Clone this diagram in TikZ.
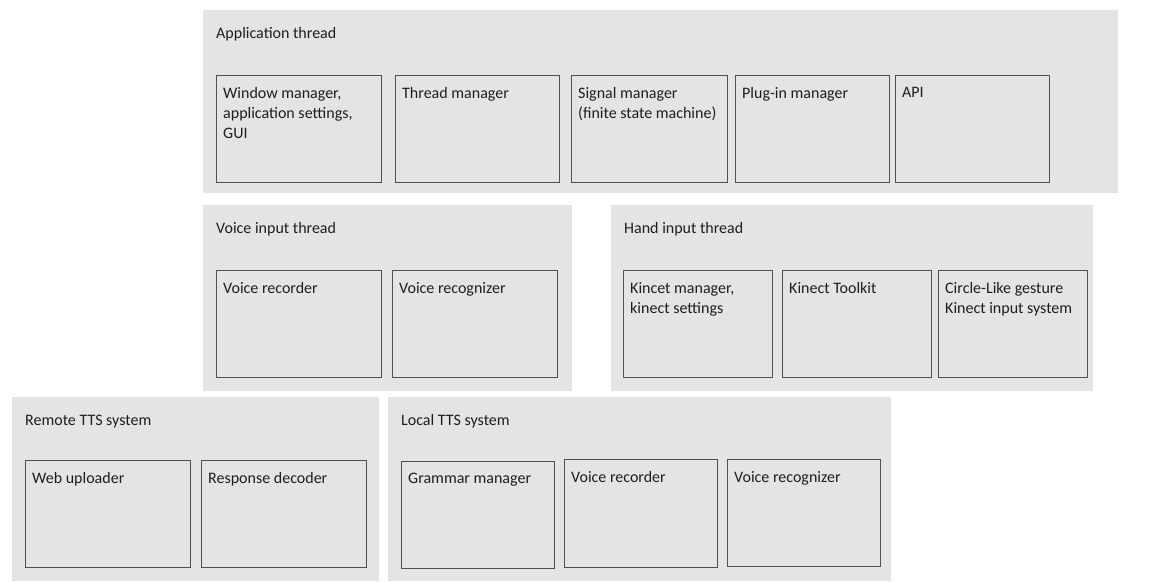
\documentclass[tikz,border=0pt]{standalone}
\usepackage{fontspec}
\setmainfont{Carlito}
\definecolor{panelgray}{HTML}{E4E4E4}
\definecolor{boxgray}{HTML}{505050}
\definecolor{inkgray}{HTML}{1E1E1E}

\tikzset{
	panel/.style={fill=panelgray, draw=none, anchor=north west, inner sep=0pt,
		label={[title]north west:{#1}}},
	title/.style={anchor=base west, inner sep=0pt, xshift=13pt, yshift=-28pt,
		text=inkgray, font=\fontsize{16}{20}\selectfont},
	part/.style={draw=boxgray, line width=1.3pt, anchor=north west, inner sep=0pt,
		minimum height=107pt, label={[desc]north west:{#1}}},
	desc/.style={anchor=north west, align=left, inner sep=0pt, xshift=7pt, yshift=-12pt,
		text=inkgray, font=\fontsize{16}{20}\selectfont},
}

\begin{document}
\begin{tikzpicture}[x=1pt,y=-1pt]
	\useasboundingbox (0,0) rectangle (1159,581);

	% application thread
	\node[panel=Application thread, minimum width=915pt, minimum height=183pt] (app) at (203,10) {};
	\node[part={Window manager,\\application settings,\\GUI}, minimum width=165pt] (winmgr) at (216,75) {};
	\node[part=Thread manager, minimum width=164pt] (thrmgr) at (395,75) {};
	\node[part={Signal manager\\(finite state machine)}, minimum width=156pt] (sigmgr) at (571,75) {};
	\node[part=Plug-in manager, minimum width=154pt] (plugmgr) at (735,75) {};
	\node[part=API, minimum width=154pt] (api) at (895,75) {};

	% voice input thread
	\node[panel=Voice input thread, minimum width=369pt, minimum height=186pt] (voice) at (203,205) {};
	\node[part=Voice recorder, minimum width=165pt] (vrec) at (216,270) {};
	\node[part=Voice recognizer, minimum width=165pt] (vrecog) at (392,270) {};

	% hand input thread
	\node[panel=Hand input thread, minimum width=482pt, minimum height=186pt] (hand) at (611,205) {};
	\node[part={Kincet manager,\\kinect settings}, minimum width=149pt] (kinmgr) at (623,270) {};
	\node[part=Kinect Toolkit, minimum width=149pt] (kintool) at (782,270) {};
	\node[part={Circle-Like gesture\\Kinect input system}, minimum width=149pt] (circle) at (938,270) {};

	% remote tts
	\node[panel=Remote TTS system, minimum width=367pt, minimum height=184pt] (remote) at (12,397) {};
	\node[part=Web uploader, minimum width=165pt] (upload) at (25,460) {};
	\node[part=Response decoder, minimum width=165pt] (decode) at (201,460) {};

	% local tts
	\node[panel=Local TTS system, minimum width=503pt, minimum height=184pt] (local) at (388,397) {};
	\node[part=Grammar manager, minimum width=153pt] (grammar) at (401,461) {};
	\node[part=Voice recorder, minimum width=153pt, minimum height=108pt] (lrec) at (564,459) {};
	\node[part=Voice recognizer, minimum width=153pt] (lrecog) at (727,459) {};

\end{tikzpicture}
\end{document}
